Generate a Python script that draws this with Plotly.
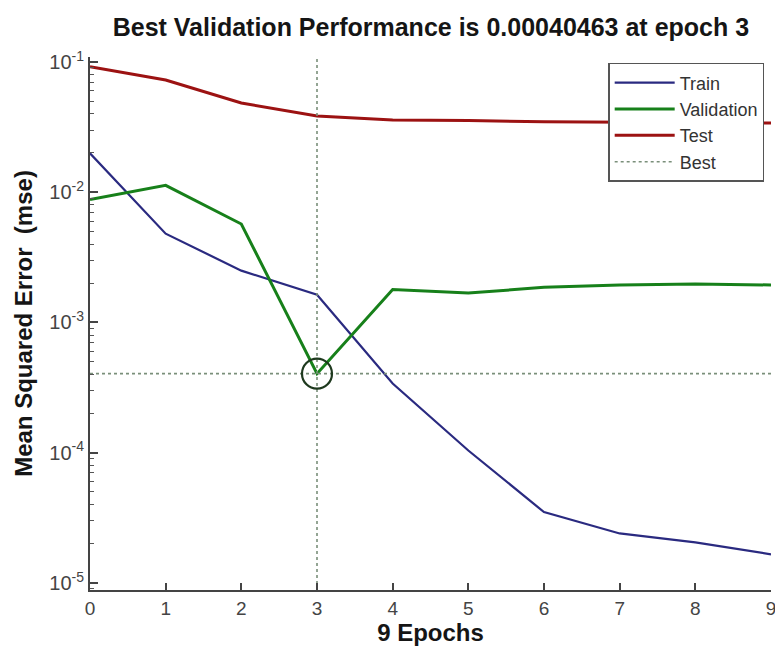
import plotly.graph_objects as go
import numpy as np

epochs = [0, 1, 2, 3, 4, 5, 6, 7, 8, 9]
train_mse = [0.0199, 0.0048, 0.0025, 0.00163, 0.00034, 0.000104, 3.5e-5, 2.4e-5, 2.05e-5, 1.66e-5]
val_mse = [0.0088, 0.0113, 0.0057, 0.00040463, 0.00179, 0.00168, 0.00186, 0.00194, 0.00197, 0.00194]
test_mse = [0.092, 0.0727, 0.0484, 0.0384, 0.0358, 0.0356, 0.0347, 0.0345, 0.0343, 0.034]
best_epoch = 3
best_perf = 0.00040463
y_exp_lo, y_exp_hi = -5.054, -0.962
ytick_vals = [1e-5, 1e-4, 1e-3, 1e-2, 1e-1]
ytick_text = ["10<sup>-5</sup>", "10<sup>-4</sup>", "10<sup>-3</sup>", "10<sup>-2</sup>", "10<sup>-1</sup>"]

minor_vals = [m * 10.0 ** e for e in range(-6, 0) for m in range(2, 10)]

FONT = "Liberation Sans, Arial, sans-serif"

fig = go.Figure()
fig.add_trace(go.Scatter(x=epochs, y=train_mse, mode="lines", name="Train",
                         line=dict(color="#2a2a80", width=2.2)))
fig.add_trace(go.Scatter(x=epochs, y=val_mse, mode="lines", name="Validation",
                         line=dict(color="#17801a", width=3)))
fig.add_trace(go.Scatter(x=epochs, y=test_mse, mode="lines", name="Test",
                         line=dict(color="#9c1212", width=3)))
fig.add_trace(go.Scatter(
    x=[best_epoch, best_epoch, None, epochs[0], epochs[-1]],
    y=[10 ** y_exp_lo, 10 ** y_exp_hi, None, best_perf, best_perf],
    mode="lines", name="Best",
    line=dict(color="#7a8f7a", width=1.6, dash="dot")))
fig.add_trace(go.Scatter(x=[best_epoch], y=[best_perf], mode="markers", showlegend=False,
                         marker=dict(symbol="circle-open", size=30, color="#1f3a1f",
                                     line=dict(color="#1f3a1f", width=2.2))))

fig.update_layout(
    width=775, height=650,
    margin=dict(l=90, r=4, t=57, b=60, autoexpand=False),
    paper_bgcolor="white", plot_bgcolor="white",
    font=dict(family=FONT, color="#444444", size=18),
    title=dict(text="<b>Best Validation Performance is 0.00040463 at epoch 3</b>",
               x=0.556, xanchor="center", y=0.958, yanchor="middle", xref="container", yref="container",
               font=dict(family=FONT, size=25, color="#151515")),
    showlegend=True,
    legend=dict(x=0.99, xanchor="right", y=0.989, yanchor="top",
                bgcolor="white", bordercolor="#555555", borderwidth=1.5,
                font=dict(family=FONT, size=18, color="#333333"),
                itemwidth=60, tracegroupgap=4),
    xaxis=dict(range=[0, 9], tickvals=epochs, ticks="inside", ticklen=7, tickwidth=1.5,
               tickcolor="#444444", showline=True, linecolor="#444444", linewidth=2,
               showgrid=False, zeroline=False, mirror=False, automargin=False,
               ticklabeloverflow="allow",
               tickfont=dict(family=FONT, size=19, color="#444444"),
               title=dict(text="<b>9 Epochs</b>", standoff=6,
                          font=dict(family=FONT, size=24, color="#151515"))),
    yaxis=dict(type="log", range=[y_exp_lo, y_exp_hi], tickvals=ytick_vals, ticktext=ytick_text,
               ticks="inside", ticklen=8, tickwidth=1.5, tickcolor="#444444",
               showline=True, linecolor="#444444", linewidth=2, showgrid=False, zeroline=False,
               automargin=False, ticklabeloverflow="allow",
               tickfont=dict(family=FONT, size=20, color="#444444"),
               minor=dict(tickvals=minor_vals, ticks="inside", ticklen=4, tickcolor="#555555",
                          tickwidth=1, showgrid=False),
               title=dict(text="<b>Mean Squared Error  (mse)</b>", standoff=10,
                          font=dict(family=FONT, size=24, color="#151515"))),
)

fig.write_html("out.html", config={"displayModeBar": False},
               post_script="document.body.style.margin='0';")
